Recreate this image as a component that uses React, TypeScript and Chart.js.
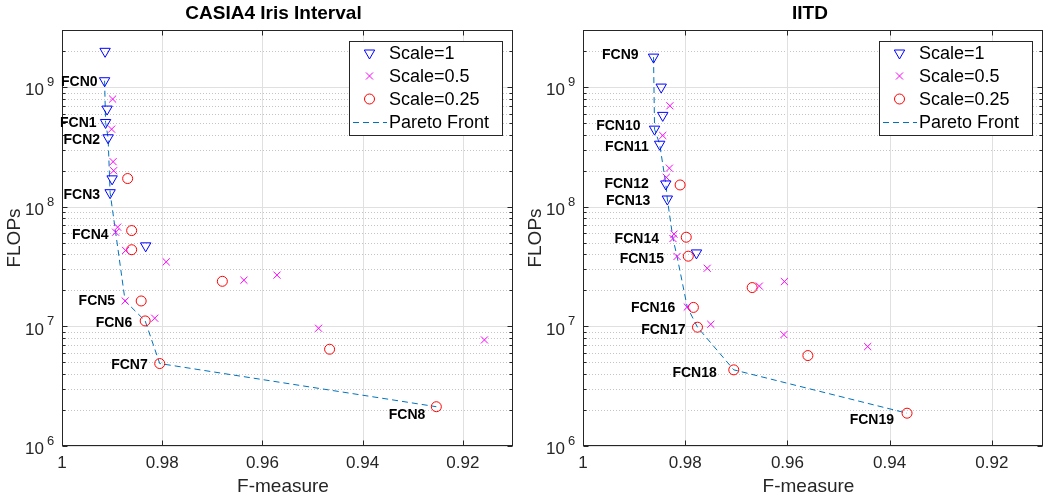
import React, { useEffect, useRef } from 'react';
import { Chart, registerables } from 'chart.js';

Chart.register(...registerables);

const FONT = '"Liberation Sans", Arial, Helvetica, sans-serif';

// ---- axes ----
const xTickValues = [1, 0.98, 0.96, 0.94, 0.92];
const xTickLabels = ['1', '0.98', '0.96', '0.94', '0.92'];
const yDecades = [1e6, 1e7, 1e8, 1e9];
const yExponents = ['6', '7', '8', '9'];
const xMin = 0.91;
const xMax = 1;
const yMin = 1e6;
const yMax = 3e9;

// ---- CASIA4 Iris Interval ----
const casiaS1F = [0.9914, 0.9915, 0.991, 0.9913, 0.9908, 0.99, 0.9904, 0.9833];
const casiaS1Flops = [1.99e9, 1.13e9, 6.55e8, 5.06e8, 3.77e8, 1.71e8, 1.31e8, 4.71e7];
const casiaS05F = [0.9899, 0.9901, 0.9898, 0.9897, 0.9889, 0.9893, 0.9873, 0.9792, 0.9637, 0.9571, 0.9874, 0.9815, 0.9488, 0.9157];
const casiaS05Flops = [7.94e8, 4.45e8, 2.38e8, 2.0e8, 6.75e7, 6.12e7, 4.31e7, 3.46e7, 2.43e7, 2.68e7, 1.63e7, 1.17e7, 9.64e6, 7.7e6];
const casiaS025F = [0.9869, 0.9861, 0.9861, 0.968, 0.9842, 0.9834, 0.9805, 0.9466, 0.9253];
const casiaS025Flops = [1.72e8, 6.32e7, 4.37e7, 2.38e7, 1.63e7, 1.11e7, 4.89e6, 6.44e6, 2.13e6];
const casiaParetoF = [0.9915, 0.9913, 0.9908, 0.9904, 0.9893, 0.9874, 0.9834, 0.9805, 0.9253];
const casiaParetoFlops = [1.13e9, 5.06e8, 3.77e8, 1.31e8, 6.12e7, 1.63e7, 1.11e7, 4.89e6, 2.13e6];
const casiaLabels = ['FCN0', 'FCN1', 'FCN2', 'FCN3', 'FCN4', 'FCN5', 'FCN6', 'FCN7', 'FCN8'];

// ---- IITD ----
const iitdS1F = [0.9862, 0.9847, 0.9844, 0.986, 0.985, 0.9838, 0.9835, 0.9778];
const iitdS1Flops = [1.78e9, 1.0e9, 5.8e8, 4.45e8, 3.33e8, 1.55e8, 1.16e8, 4.11e7];
const iitdS05F = [0.983, 0.9844, 0.9831, 0.9837, 0.9822, 0.9824, 0.9816, 0.9757, 0.9655, 0.9606, 0.9796, 0.975, 0.9607, 0.9443];
const iitdS05Flops = [6.98e8, 3.94e8, 2.1e8, 1.76e8, 5.9e7, 5.42e7, 3.84e7, 3.06e7, 2.17e7, 2.37e7, 1.45e7, 1.04e7, 8.53e6, 6.78e6];
const iitdS025F = [0.981, 0.9798, 0.9794, 0.9669, 0.9784, 0.9776, 0.9705, 0.956, 0.9366];
const iitdS025Flops = [1.52e8, 5.56e7, 3.86e7, 2.11e7, 1.44e7, 9.84e6, 4.33e6, 5.7e6, 1.88e6];
const iitdParetoF = [0.9862, 0.986, 0.985, 0.9838, 0.9835, 0.9824, 0.9816, 0.9796, 0.9776, 0.9705, 0.9366];
const iitdParetoFlops = [1.78e9, 4.45e8, 3.33e8, 1.55e8, 1.16e8, 5.42e7, 3.84e7, 1.45e7, 9.84e6, 4.33e6, 1.88e6];
const iitdLabels = ['FCN9', 'FCN10', 'FCN11', 'FCN12', 'FCN13', 'FCN14', 'FCN15', 'FCN16', 'FCN17', 'FCN18', 'FCN19'];

const legendLabels = ['Scale=1', 'Scale=0.5', 'Scale=0.25', 'Pareto Front'];

// ---- layout (pixels) ----
const casiaLabelGap = [7, 9, 8, 10, 7, 10, 13, 12, 11];
const casiaLabelDy = [1, 1, 2, 2, 3, 0, 2, 2, 8];
const iitdLabelGap = [15, 14, 11, 17, 17, 14, 13, 12, 12, 17, 13];
const iitdLabelDy = [-2, -3, 3, 0, 2, 1, 3, 1, 3, 3, 7];

const BLUE = '#0000ff';
const MAGENTA = '#ff00ff';
const RED = '#ff0000';
const PARETO = '#0072BD';
const AXIS = '#262626';

type Panel = {
  title: string;
  titleDx: number;
  s1F: number[]; s1Y: number[];
  s05F: number[]; s05Y: number[];
  s025F: number[]; s025Y: number[];
  pF: number[]; pY: number[];
  labels: string[]; gap: number[]; dy: number[];
  left: number; width: number;
  pad: { left: number; right: number; top: number; bottom: number };
};

const panels: Panel[] = [
  {
    title: 'CASIA4 Iris Interval', titleDx: -14,
    s1F: casiaS1F, s1Y: casiaS1Flops, s05F: casiaS05F, s05Y: casiaS05Flops,
    s025F: casiaS025F, s025Y: casiaS025Flops, pF: casiaParetoF, pY: casiaParetoFlops,
    labels: casiaLabels, gap: casiaLabelGap, dy: casiaLabelDy,
    left: 0, width: 527, pad: { left: 62, right: 14, top: 30, bottom: 56 },
  },
  {
    title: 'IITD', titleDx: -3,
    s1F: iitdS1F, s1Y: iitdS1Flops, s05F: iitdS05F, s05Y: iitdS05Flops,
    s025F: iitdS025F, s025Y: iitdS025Flops, pF: iitdParetoF, pY: iitdParetoFlops,
    labels: iitdLabels, gap: iitdLabelGap, dy: iitdLabelDy,
    left: 527, width: 528, pad: { left: 56, right: 12, top: 30, bottom: 56 },
  },
];

const zip = (xs: number[], ys: number[]) => xs.map((x, i) => ({ x, y: ys[i] }));

function triangleDown(ctx: CanvasRenderingContext2D, x: number, y: number, r: number) {
  let rad = Math.PI;
  ctx.beginPath();
  ctx.moveTo(x + Math.sin(rad) * r, y - Math.cos(rad) * r);
  rad += (2 * Math.PI) / 3;
  ctx.lineTo(x + Math.sin(rad) * r, y - Math.cos(rad) * r);
  rad += (2 * Math.PI) / 3;
  ctx.lineTo(x + Math.sin(rad) * r, y - Math.cos(rad) * r);
  ctx.closePath();
  ctx.stroke();
}

function makePlugin(p: Panel) {
  return {
    id: 'matlabLook',
    beforeDatasetsDraw(chart: any) {
      const { ctx, chartArea: a, scales } = chart;
      const xs = scales.x;
      const ys = scales.y;
      ctx.save();
      ctx.lineWidth = 1;
      // minor y grid (dotted)
      ctx.strokeStyle = '#c4c4c4';
      ctx.setLineDash([1, 2]);
      yDecades.forEach((d) => {
        for (let m = 2; m <= 9; m++) {
          const v = m * d;
          if (v >= yMax) break;
          const py = Math.round(ys.getPixelForValue(v)) + 0.5;
          ctx.beginPath();
          ctx.moveTo(a.left, py);
          ctx.lineTo(a.right, py);
          ctx.stroke();
        }
      });
      ctx.setLineDash([]);
      // major grid
      ctx.strokeStyle = '#e0e0e0';
      yDecades.forEach((d) => {
        const py = Math.round(ys.getPixelForValue(d)) + 0.5;
        ctx.beginPath();
        ctx.moveTo(a.left, py);
        ctx.lineTo(a.right, py);
        ctx.stroke();
      });
      xTickValues.forEach((v) => {
        const px = Math.round(xs.getPixelForValue(v)) + 0.5;
        ctx.beginPath();
        ctx.moveTo(px, a.top);
        ctx.lineTo(px, a.bottom);
        ctx.stroke();
      });
      ctx.restore();
    },
    afterDraw(chart: any) {
      const { ctx, chartArea: a, scales } = chart;
      const xs = scales.x;
      const ys = scales.y;
      ctx.save();
      // box
      ctx.strokeStyle = AXIS;
      ctx.lineWidth = 1;
      const L = Math.round(a.left) + 0.5;
      const R = Math.round(a.right) - 0.5;
      const T = Math.round(a.top) + 0.5;
      const B = Math.round(a.bottom) - 0.5;
      ctx.strokeRect(L, T, R - L, B - T);
      // x ticks
      ctx.beginPath();
      xTickValues.forEach((v) => {
        const px = Math.round(xs.getPixelForValue(v)) + 0.5;
        ctx.moveTo(px, B); ctx.lineTo(px, B - 5);
        ctx.moveTo(px, T); ctx.lineTo(px, T + 5);
      });
      // y ticks
      yDecades.forEach((d) => {
        const py = Math.round(ys.getPixelForValue(d)) + 0.5;
        ctx.moveTo(L, py); ctx.lineTo(L + 5, py);
        ctx.moveTo(R, py); ctx.lineTo(R - 5, py);
        for (let m = 2; m <= 9; m++) {
          const v = m * d;
          if (v >= yMax) break;
          const pm = Math.round(ys.getPixelForValue(v)) + 0.5;
          ctx.moveTo(L, pm); ctx.lineTo(L + 3, pm);
          ctx.moveTo(R, pm); ctx.lineTo(R - 3, pm);
        }
      });
      ctx.stroke();

      // x tick labels
      ctx.fillStyle = AXIS;
      ctx.font = `17px ${FONT}`;
      ctx.textAlign = 'center';
      ctx.textBaseline = 'middle';
      xTickValues.forEach((v, i) => {
        ctx.fillText(xTickLabels[i], xs.getPixelForValue(v), a.bottom + 17);
      });
      // y tick labels 10^n
      yDecades.forEach((d, i) => {
        const py = ys.getPixelForValue(d);
        ctx.font = `17px ${FONT}`;
        ctx.textAlign = 'right';
        ctx.fillText('10', a.left - 18, py + 3.5);
        ctx.font = `13px ${FONT}`;
        ctx.textAlign = 'left';
        ctx.fillText(yExponents[i], a.left - 15, py - 4.5);
      });
      // axis titles
      ctx.font = `19px ${FONT}`;
      ctx.textAlign = 'center';
      ctx.fillText('F-measure', (a.left + a.right) / 2 - 4.5, 487);
      ctx.save();
      ctx.translate(a.left - 47, (a.top + a.bottom) / 2);
      ctx.rotate(-Math.PI / 2);
      ctx.fillText('FLOPs', 0, 0);
      ctx.restore();
      // title
      ctx.fillStyle = '#000';
      ctx.font = `bold 19px ${FONT}`;
      ctx.fillText(p.title, (a.left + a.right) / 2 + p.titleDx, 14);

      // point labels
      ctx.font = `bold 14px ${FONT}`;
      ctx.textAlign = 'right';
      p.labels.forEach((lab, i) => {
        const px = xs.getPixelForValue(p.pF[i]);
        const py = ys.getPixelForValue(p.pY[i]);
        ctx.fillText(lab, px - p.gap[i], py + p.dy[i]);
      });

      // legend
      const lw = 153;
      const lh = 94;
      const lr = a.right - 11;
      const ll = lr - lw;
      const lt = a.top + 11;
      ctx.fillStyle = '#fff';
      ctx.fillRect(ll, lt, lw, lh);
      ctx.strokeStyle = AXIS;
      ctx.lineWidth = 1;
      ctx.strokeRect(Math.round(ll) + 0.5, Math.round(lt) + 0.5, lw, lh);
      const mx = ll + 20.5;
      const rowY = (i: number) => lt + 12 + 23 * i;
      ctx.strokeStyle = BLUE;
      triangleDown(ctx, mx, rowY(0), 6);
      ctx.strokeStyle = MAGENTA;
      ctx.beginPath();
      const c = 5 * Math.SQRT1_2;
      ctx.moveTo(mx - c, rowY(1) - c); ctx.lineTo(mx + c, rowY(1) + c);
      ctx.moveTo(mx + c, rowY(1) - c); ctx.lineTo(mx - c, rowY(1) + c);
      ctx.stroke();
      ctx.strokeStyle = RED;
      ctx.beginPath();
      ctx.arc(mx, rowY(2), 5, 0, Math.PI * 2);
      ctx.stroke();
      ctx.strokeStyle = PARETO;
      ctx.setLineDash([6, 4]);
      ctx.beginPath();
      ctx.moveTo(ll + 4, rowY(3) + 0.5);
      ctx.lineTo(ll + 38, rowY(3) + 0.5);
      ctx.stroke();
      ctx.setLineDash([]);
      ctx.fillStyle = '#000';
      ctx.font = `18px ${FONT}`;
      ctx.textAlign = 'left';
      legendLabels.forEach((t, i) => ctx.fillText(t, ll + 40, rowY(i) + 1));
      ctx.restore();
    },
  };
}

function PanelChart({ p }: { p: Panel }) {
  const ref = useRef<HTMLCanvasElement | null>(null);
  useEffect(() => {
    if (!ref.current) return;
    const marker = (color: string, style: string, r: number, rot = 0) => ({
      pointStyle: style,
      pointRadius: r,
      pointRotation: rot,
      pointBorderColor: color,
      pointBackgroundColor: 'rgba(0,0,0,0)',
      pointBorderWidth: 1,
      borderColor: color,
      backgroundColor: 'rgba(0,0,0,0)',
      showLine: false,
    });
    const chart = new Chart(ref.current, {
      type: 'scatter',
      data: {
        datasets: [
          { label: legendLabels[0], data: zip(p.s1F, p.s1Y), ...marker(BLUE, 'triangle', 6, 180) },
          { label: legendLabels[1], data: zip(p.s05F, p.s05Y), ...marker(MAGENTA, 'crossRot', 5) },
          { label: legendLabels[2], data: zip(p.s025F, p.s025Y), ...marker(RED, 'circle', 5) },
          {
            label: legendLabels[3],
            data: zip(p.pF, p.pY),
            showLine: true,
            borderColor: PARETO,
            borderWidth: 1,
            borderDash: [6, 4],
            pointRadius: 0,
            fill: false,
          },
        ],
      } as any,
      options: {
        animation: false,
        responsive: false,
        maintainAspectRatio: false,
        layout: { padding: p.pad },
        scales: {
          x: { type: 'linear', reverse: true, min: xMin, max: xMax, display: false },
          y: { type: 'logarithmic', min: yMin, max: yMax, display: false },
        },
        plugins: { legend: { display: false }, tooltip: { enabled: false } },
      } as any,
      plugins: [makePlugin(p)],
    });
    return () => chart.destroy();
  }, [p]);
  return (
    <canvas
      ref={ref}
      width={p.width}
      height={502}
      style={{ position: 'absolute', left: p.left, top: 0, width: p.width, height: 502 }}
    />
  );
}

export default function App() {
  return (
    <div style={{ position: 'absolute', left: 0, top: 0, width: 1055, height: 502, background: '#fff' }}>
      {panels.map((p) => (
        <PanelChart key={p.title} p={p} />
      ))}
    </div>
  );
}
